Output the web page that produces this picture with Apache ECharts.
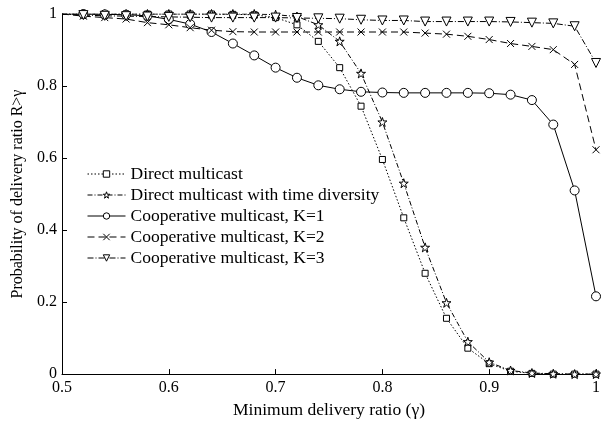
<!DOCTYPE html>
<html>
<head>
<meta charset="utf-8">
<script src="https://cdn.jsdelivr.net/npm/echarts@6/dist/echarts.min.js"></script>
<style>html,body{margin:0;padding:0;background:#fff}#c{width:613px;height:424px}</style>
</head>
<body>
<div id="c"></div>
<script>
const gamma = [0.50,0.52,0.54,0.56,0.58,0.60,0.62,0.64,0.66,0.68,0.70,0.72,0.74,0.76,0.78,0.80,0.82,0.84,0.86,0.88,0.90,0.92,0.94,0.96,0.98,1.00];
const directMulticast = [1,1,1,1,1,1,1,1,0.999,0.998,0.99,0.97,0.924,0.851,0.744,0.596,0.434,0.28,0.155,0.072,0.029,0.008,0.002,0,0,0];
const directTimeDiv = [1,1,1,1,1,1,1,1,1,1,0.998,0.993,0.97,0.924,0.835,0.70,0.53,0.352,0.198,0.09,0.033,0.01,0.003,0.001,0,0];
const coopK1 = [1,1,0.999,0.998,0.995,0.985,0.972,0.95,0.918,0.885,0.851,0.823,0.802,0.791,0.784,0.782,0.781,0.781,0.781,0.781,0.780,0.776,0.761,0.693,0.51,0.216];
const coopK2 = [1,0.994,0.99,0.986,0.976,0.97,0.962,0.955,0.951,0.95,0.95,0.95,0.95,0.95,0.95,0.95,0.95,0.947,0.944,0.938,0.929,0.918,0.91,0.901,0.86,0.623];
const coopK3 = [1,0.997,0.995,0.994,0.993,0.992,0.991,0.99,0.99,0.99,0.99,0.989,0.988,0.987,0.984,0.982,0.982,0.979,0.979,0.979,0.979,0.978,0.976,0.974,0.966,0.864];
const xTicks = [0.5,0.6,0.7,0.8,0.9,1];
const yTicks = [0,0.2,0.4,0.6,0.8,1];
const names = ['Direct multicast','Direct multicast with time diversity','Cooperative multicast, K=1','Cooperative multicast, K=2','Cooperative multicast, K=3'];

const FONT = 'Liberation Serif';
const STAR = 'path://M0,-10L2.35,-3.09L9.51,-3.09L3.71,1.18L5.88,8.09L0,3.82L-5.88,8.09L-3.71,1.18L-9.51,-3.09L-2.35,-3.09Z';
const CROSS = 'path://M0,0L10,10M10,0L0,10';

function pts(arr){
  return gamma.map((g,i)=> i===0 ? {value:[g,arr[i]], symbol:'none'} : [g,arr[i]]);
}
function mk(name, arr, symbol, size, dash, extra){
  return Object.assign({
    name: name, type:'line', data: pts(arr),
    symbol: symbol, symbolSize: size, showAllSymbol:true,
    lineStyle:{color:'#000', width:1, type:dash},
    itemStyle:{color:'#fff', borderColor:'#000', borderWidth:1},
    emphasis:{disabled:true}, animation:false
  }, extra||{});
}

const chart = echarts.init(document.getElementById('c'), null, {renderer:'canvas'});
chart.setOption({
  animation:false,
  backgroundColor:'#fff',
  grid:{left:62, right:17, top:14, bottom:46, containLabel:false},
  legend:{
    orient:'vertical', left:87, top:165, padding:0,
    itemWidth:38, itemHeight:8, itemGap:3,
    lineStyle:{width:1},
    itemStyle:{borderWidth:1},
    textStyle:{fontFamily:FONT, fontSize:17.5, color:'#000'},
    data:names
  },
  xAxis:{
    type:'value', min:0.5, max:1, interval:0.1,
    name:'Minimum delivery ratio (γ)', nameLocation:'middle', nameGap:26,
    nameTextStyle:{fontFamily:FONT, fontSize:17.5, color:'#000'},
    axisLine:{lineStyle:{color:'#000', width:1}},
    axisTick:{inside:true, length:5, lineStyle:{color:'#000'}},
    axisLabel:{fontFamily:FONT, fontSize:16, color:'#000', margin:6,
      formatter:v=> xTicks.indexOf(+v.toFixed(2))>=0 ? String(+v.toFixed(2)) : ''},
    splitLine:{show:false}
  },
  yAxis:{
    type:'value', min:0, max:1, interval:0.2,
    name:'Probability of delivery ratio R>γ', nameLocation:'middle', nameGap:29,
    nameTextStyle:{fontFamily:FONT, fontSize:16, color:'#000'},
    axisLine:{show:true, lineStyle:{color:'#000', width:1}},
    axisTick:{show:true, inside:true, length:5, lineStyle:{color:'#000'}},
    axisLabel:{fontFamily:FONT, fontSize:16, color:'#000', margin:5,
      formatter:v=> yTicks.indexOf(+v.toFixed(2))>=0 ? String(+v.toFixed(2)) : ''},
    splitLine:{show:false}
  },
  series:[
    mk(names[0], directMulticast, 'rect', 6, [1.5,2]),
    mk(names[1], directTimeDiv, STAR, 9, [5,2,1,2]),
    mk(names[2], coopK1, 'circle', 9, 'solid'),
    mk(names[3], coopK2, CROSS, 7, [7,4]),
    mk(names[4], coopK3, 'triangle', 9, [6,2,1,2], {symbolRotate:180})
  ]
});
</script>
</body>
</html>
